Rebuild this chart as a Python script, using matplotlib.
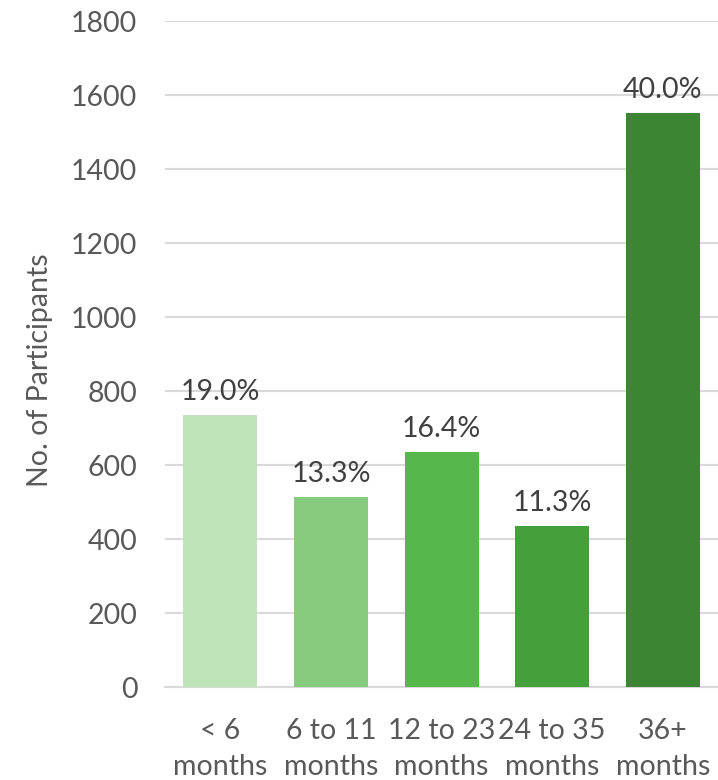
import matplotlib
matplotlib.use("Agg")
import matplotlib.pyplot as plt

categories = ["< 6\nmonths", "6 to 11\nmonths", "12 to 23\nmonths", "24 to 35\nmonths", "36+\nmonths"]
values = [735, 513, 635, 435, 1551]
labels = ["19.0%", "13.3%", "16.4%", "11.3%", "40.0%"]
colors = ["#C0E4BA", "#87CC7E", "#56B74A", "#44A03B", "#3C8533"]
yticks = [0, 200, 400, 600, 800, 1000, 1200, 1400, 1600, 1800]

plt.rcParams['font.family'] = ['Lato', 'DejaVu Sans']
txt = "#595959"
fs = 20.5

fig = plt.figure(figsize=(7.18, 7.80), dpi=100)
ax = fig.add_axes([0.23, 0.119, 0.77, 0.854])
x = list(range(len(categories)))
bars = ax.bar(x, values, width=0.67, color=colors, zorder=3)
for xi, v, l in zip(x, values, labels):
    ax.text(xi, v + 28, l, ha="center", va="bottom", fontsize=fs, color="#404040")

ax.set_ylim(0, 1800)
ax.set_xlim(-0.5, 4.5)
ax.set_yticks(yticks)
ax.set_yticklabels([str(t) for t in yticks], fontsize=fs, color=txt)
ax.set_xticks(x)
ax.set_xticklabels(categories, fontsize=fs, color=txt, linespacing=1.5)
ax.tick_params(axis="both", length=0)
ax.tick_params(axis="y", pad=20)
ax.tick_params(axis="x", pad=22)
ax.yaxis.grid(True, color="#D9D9D9", linewidth=1.5, zorder=0)
for s in ["top", "right", "left"]:
    ax.spines[s].set_visible(False)
ax.spines["bottom"].set_color("#D9D9D9")
ax.spines["bottom"].set_linewidth(1.5)
ax.set_ylabel("No. of Participants", fontsize=fs, color=txt, va="center")
ax.yaxis.set_label_coords(-0.226, 0.476)

fig.savefig("out.png", dpi=100)
